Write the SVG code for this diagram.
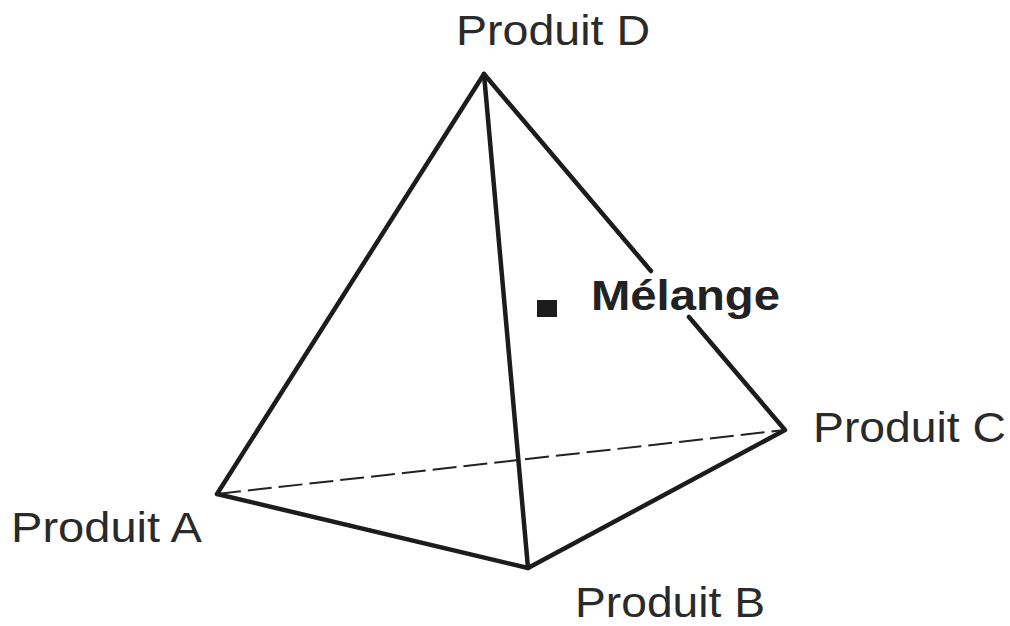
<svg xmlns="http://www.w3.org/2000/svg" width="1010" height="626" viewBox="0 0 1010 626">
<style>
.e{stroke:#1c1c1c;stroke-width:4.5;fill:none;stroke-linecap:round;stroke-linejoin:round}
.l{font-family:"Liberation Sans",Arial,sans-serif;font-size:42px;fill:#2a2a2a}
</style>
<rect width="1010" height="626" fill="#fff"/>
<g id="connectors">
<path class="e" d="M651 271L484 74L217 494L528 568L785 430L689 317"/>
<path class="e" d="M484 74L528 568"/>
<path d="M217 494L785 430" stroke="#222" stroke-width="2" stroke-dasharray="24 7" fill="none"/>
</g>
<g id="produit-d"><text class="l" x="456" y="45" textLength="194" lengthAdjust="spacingAndGlyphs">Produit D</text></g>
<g id="produit-a"><text class="l" x="11" y="542" textLength="191" lengthAdjust="spacingAndGlyphs">Produit A</text></g>
<g id="produit-b"><text class="l" x="575" y="617" textLength="190" lengthAdjust="spacingAndGlyphs">Produit B</text></g>
<g id="produit-c"><text class="l" x="813" y="442" textLength="193" lengthAdjust="spacingAndGlyphs">Produit C</text></g>
<g id="melange"><rect x="537" y="300" width="20" height="17" fill="#1c1c1c"/><text x="591" y="310" font-family="'Liberation Sans',Arial,sans-serif" font-size="42" font-weight="bold" fill="#222" textLength="189" lengthAdjust="spacingAndGlyphs">Mélange</text></g>
</svg>
